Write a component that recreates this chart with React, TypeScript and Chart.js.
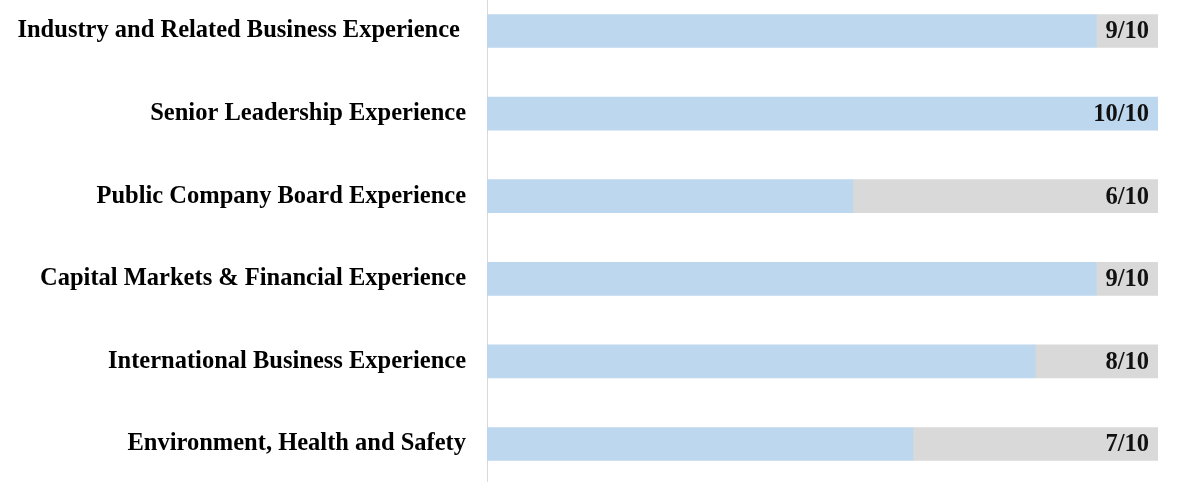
import React, { useEffect, useRef } from "react";
import { Chart, registerables } from "chart.js";

Chart.register(...registerables);

const categories = [
  "Industry and Related Business Experience ",
  "Senior Leadership Experience",
  "Public Company Board Experience",
  "Capital Markets & Financial Experience",
  "International Business Experience",
  "Environment, Health and Safety",
];
const filledValues = [9.08, 10, 5.45, 9.08, 8.17, 6.35];
const remainderValues = [0.92, 0, 4.55, 0.92, 1.83, 3.65];
const scoreLabels = ["9/10", "10/10", "6/10", "9/10", "8/10", "7/10"];

const FONT = "'Liberation Serif', 'Times New Roman', serif";

const valueLabelPlugin = {
  id: "valueLabels",
  afterDatasetsDraw(chart: any) {
    const { ctx, chartArea } = chart;
    const meta = chart.getDatasetMeta(0);
    ctx.save();
    ctx.font = `bold 24.5px ${FONT}`;
    ctx.fillStyle = "#111111";
    ctx.textAlign = "right";
    ctx.textBaseline = "middle";
    meta.data.forEach((bar: any, i: number) => {
      ctx.fillText(scoreLabels[i], chartArea.right - 9, bar.y + 1);
    });
    ctx.restore();
  },
};

export default function App() {
  const ref = useRef<HTMLCanvasElement | null>(null);
  useEffect(() => {
    if (!ref.current) return;
    const chart = new Chart(ref.current, {
      type: "bar",
      data: {
        labels: categories,
        datasets: [
          {
            data: filledValues,
            backgroundColor: "#BDD7EE",
            borderWidth: 0,
            barThickness: 33,
          },
          {
            data: remainderValues,
            backgroundColor: "#D9D9D9",
            borderWidth: 0,
            barThickness: 33,
          },
        ],
      },
      options: {
        indexAxis: "y",
        animation: false,
        responsive: false,
        maintainAspectRatio: false,
        layout: { padding: { left: 0, right: 20, top: 0, bottom: 0 } },
        plugins: {
          legend: { display: false },
          tooltip: { enabled: false },
        },
        scales: {
          x: {
            display: false,
            stacked: true,
            min: 0,
            max: 10,
          },
          y: {
            stacked: true,
            grid: {
              display: true,
              drawOnChartArea: false,
              drawTicks: true,
              tickLength: 21,
              tickColor: "rgba(0,0,0,0)",
              color: "rgba(0,0,0,0)",
            },
            border: { display: true, color: "#D9D9D9", width: 1 },
            ticks: {
              color: "#000000",
              padding: 0,
              font: { family: FONT, size: 24.5, weight: "bold" },
            },
            afterFit(scale: any) {
              scale.width = 487;
            },
          },
        },
      },
      plugins: [valueLabelPlugin],
    });
    return () => chart.destroy();
  }, []);
  return (
    <div
      style={{
        position: "fixed",
        left: 0,
        top: 0,
        width: 1178,
        height: 482,
        overflow: "hidden",
        background: "#ffffff",
      }}
    >
      <canvas
        ref={ref}
        width={1178}
        height={525}
        style={{ position: "absolute", left: 0, top: -25, width: 1178, height: 525 }}
      />
    </div>
  );
}
